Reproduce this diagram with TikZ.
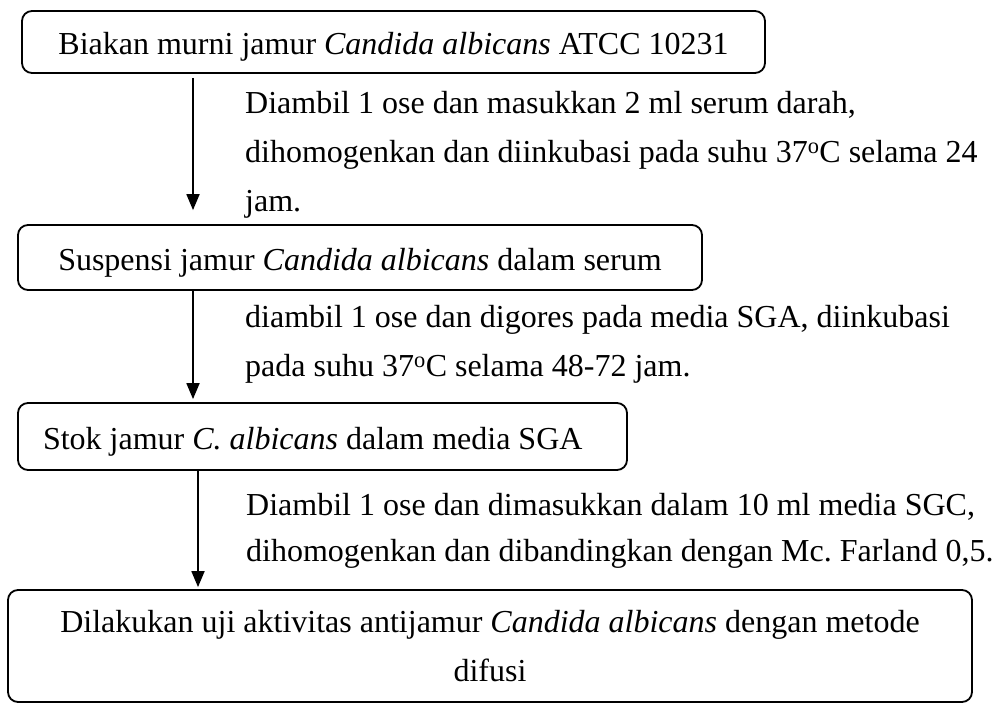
\documentclass[tikz,border=0pt]{standalone}
\usepackage{fontspec}
\setmainfont{Liberation Serif}
\usetikzlibrary{arrows.meta}
\begin{document}
\frenchspacing
\begin{tikzpicture}[x=1pt,y=-1pt,
  every node/.style={font=\fontsize{32}{49}\selectfont},
  box/.style={draw, line width=1.8pt, rounded corners=10pt, inner sep=0pt, align=center},
  onebox/.style={box, text height=25pt, text depth=0pt},
  lbl/.style={anchor=north west, align=left, inner sep=0pt},
  arr/.style={line width=1.8pt, -{Triangle[length=16pt,width=13pt]}}]
\useasboundingbox (0,0) rectangle (999,704);
\node[onebox, minimum width=743pt, minimum height=62pt] (b1) at (393.5,42)
  {Biakan murni jamur \textit{Candida albicans} ATCC 10231};
\node[onebox, minimum width=684pt, minimum height=65pt] (b2) at (360,257.5)
  {Suspensi jamur \textit{Candida albicans} dalam serum};
\node[onebox, align=flush left, text width=559pt, inner xsep=25pt, minimum height=67pt] (b3) at (322.5,436.5)
  {Stok jamur \textit{C. albicans} dalam media SGA};
\node[box, minimum width=964pt, minimum height=112pt] (b4) at (490,646)
  {Dilakukan uji aktivitas antijamur \textit{Candida albicans} dengan metode\\difusi};
\node[lbl] (t1) at (245,91)
  {Diambil 1 ose dan masukkan 2 ml serum darah,\\dihomogenkan dan diinkubasi pada suhu 37\textsuperscript{o}C selama 24\\jam.};
\node[lbl] (t2) at (245,305)
  {diambil 1 ose dan digores pada media SGA, diinkubasi\\pada suhu 37\textsuperscript{o}C selama 48-72 jam.};
\node[lbl, font=\fontsize{32}{46}\selectfont] (t3) at (246,493)
  {Diambil 1 ose dan dimasukkan dalam 10 ml media SGC,\\dihomogenkan dan dibandingkan dengan Mc. Farland 0,5.};
\coordinate (c1) at (193,0);
\coordinate (c3) at (198,0);
\draw[arr, shorten <=4pt, shorten >=14pt] (b1.south -| c1) -- (b2.north -| c1);
\draw[arr, shorten >=3pt] (b2.south -| c1) -- (b3.north -| c1);
\draw[arr, shorten >=2pt] (b3.south -| c3) -- (b4.north -| c3);
\end{tikzpicture}
\end{document}
